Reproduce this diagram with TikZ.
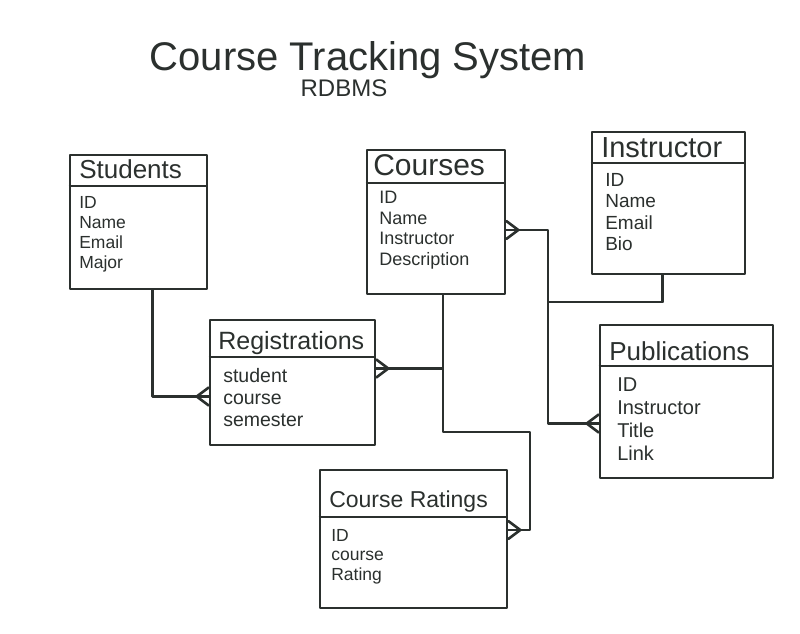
\documentclass[tikz,border=0pt]{standalone}
\usepackage{fontspec}
\setmainfont{Liberation Sans}
\usetikzlibrary{arrows, arrows.meta}
\usetikzlibrary{calc}
\usetikzlibrary{decorations.markings}
\definecolor{marker}{RGB}{43,48,46}

\begin{document}
\begin{tikzpicture}[x=1pt, y=-1pt, line width=2.6pt, color=marker, line join=round,
    tbl/.style={draw, rectangle, inner sep=0pt},
    ttl/.style={anchor=base west, inner sep=0pt, font=\fontsize{#1}{#1}\selectfont},
    flds/.style 2 args={anchor=north west, align=left, inner sep=0pt, font=\fontsize{#1}{#2}\selectfont},
    crow/.style={postaction={decorate}, decoration={markings,
      mark=at position 1 with {\draw[line cap=round] (-12pt,0pt) -- (0pt,9pt) (-12pt,0pt) -- (0pt,-9pt);}}}]
      \useasboundingbox[fill=white] (0,0) rectangle (800,634);

      \node[font=\fontsize{40}{44}\selectfont] (title) at (368,60) {Course Tracking System};
      \node[font=\fontsize{24}{28}\selectfont] (subtitle) at (344,88) {RDBMS};

      \node[tbl, minimum width=137pt, minimum height=134pt] (students) at (138.5,222) {};
      \node[ttl=26] (students-t) at (78,178) {Students};
      \draw (students.west |- 0,186) -- (students.east |- 0,186);
      \node[flds={17.5}{20}] (students-f) at (78,195) {ID\\Name\\Email\\Major};

      \node[tbl, minimum width=138pt, minimum height=144pt] (courses) at (436,222) {};
      \node[ttl=30] (courses-t) at (372,175) {Courses};
      \draw (courses.west |- 0,183) -- (courses.east |- 0,183);
      \node[flds={18}{20.5}] (courses-f) at (378,190) {ID\\Name\\Instructor\\Description};

      \node[tbl, minimum width=153pt, minimum height=142pt] (instr) at (668.5,203) {};
      \node[ttl=29] (instr-t) at (600,157) {Instructor};
      \draw (instr.west |- 0,163) -- (instr.east |- 0,163);
      \node[flds={19}{21.5}] (instr-f) at (604,172) {ID\\Name\\Email\\Bio};

      \node[tbl, minimum width=165pt, minimum height=125pt] (registr) at (292.5,382.5) {};
      \node[ttl=25] (registr-t) at (217,349) {Registrations};
      \draw (registr.west |- 0,357) -- (registr.east |- 0,357);
      \node[flds={19.5}{22}] (registr-f) at (222,367) {student\\course\\semester};

      \node[tbl, minimum width=173pt, minimum height=153pt] (pub) at (686.5,401.5) {};
      \node[ttl=26] (pub-t) at (608,360) {Publications};
      \draw (pub.west |- 0,366) -- (pub.east |- 0,366);
      \node[flds={20}{23}] (pub-f) at (616,376) {ID\\Instructor\\Title\\Link};

      \node[tbl, minimum width=187pt, minimum height=138pt] (ratings) at (413.5,539) {};
      \node[ttl=23] (ratings-t) at (328,507) {Course Ratings};
      \draw (ratings.west |- 0,517) -- (ratings.east |- 0,517);
      \node[flds={17.5}{19.5}] (ratings-f) at (330,528) {ID\\course\\Rating};

      \coordinate (instr-bend) at (548,302);
      \coordinate (crs-bend) at (530,432);

      \draw[crow] ([xshift=14pt]students.south) |- ([yshift=-14pt]registr.west);
      \draw[crow] ([xshift=7pt]courses.south) |- ([yshift=14pt]registr.east);
      \draw[crow] ([xshift=7pt]courses.south) |- (crs-bend) |- ([yshift=9pt]ratings.east);
      \draw[crow] ([xshift=-6pt]instr.south) |- (instr-bend) |- ([yshift=-8pt]courses.east);
      \draw[crow] ([xshift=-6pt]instr.south) |- (instr-bend) |- ([yshift=-22pt]pub.west);
    \end{tikzpicture}
\end{document}
